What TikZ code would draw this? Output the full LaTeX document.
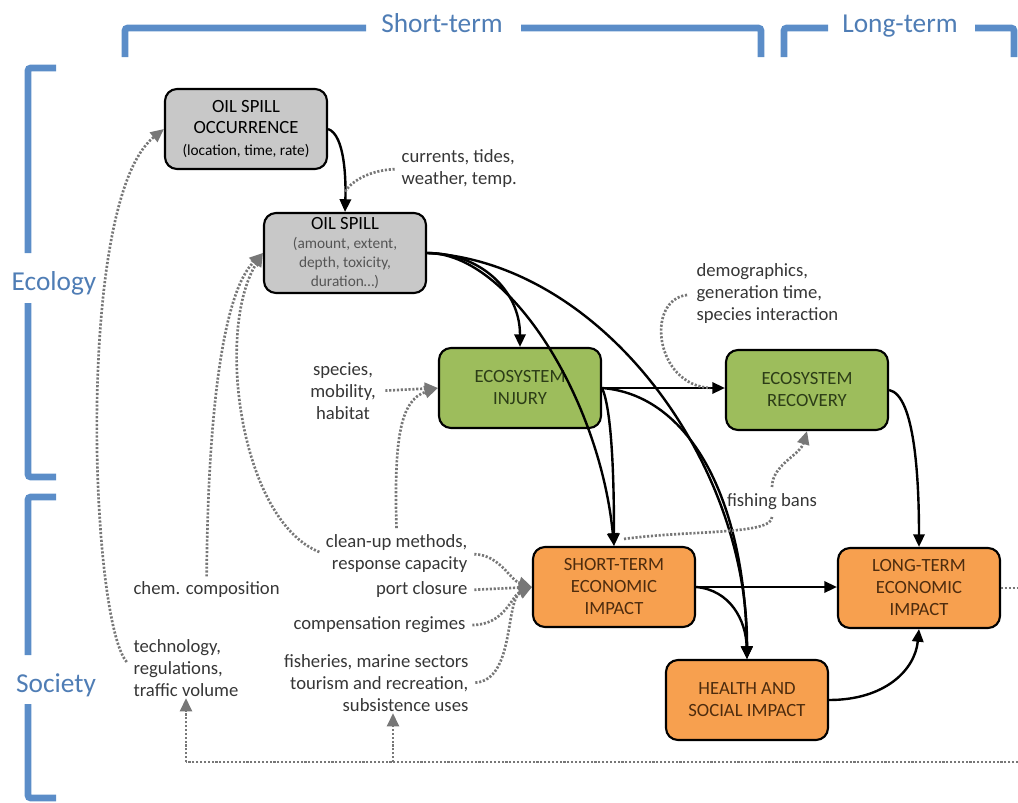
\documentclass[tikz,border=0pt]{standalone}
\usepackage{fontspec}
\setmainfont{Carlito}
\usetikzlibrary{arrows.meta,calc}
\definecolor{boxgrey}{HTML}{C8C8C8}
\definecolor{boxgreen}{HTML}{9DBD5C}
\definecolor{boxorange}{HTML}{F7A04F}
\definecolor{greentext}{HTML}{2C3D17}
\definecolor{orangetext}{HTML}{4E2C0E}
\definecolor{lbltext}{HTML}{363636}
\definecolor{subgrey}{HTML}{555555}
\definecolor{dotgrey}{HTML}{777777}
\definecolor{bracketblue}{HTML}{5B8DC8}
\definecolor{titleblue}{HTML}{4F7DB5}
\newcommand{\subfnt}{\fontsize{11.5}{14.3}\selectfont}
\begin{document}
\begin{tikzpicture}[x=0.75pt,y=-0.75pt,
  box/.style={draw=black, line width=1.6pt, rounded corners=9pt,
    minimum width=121.5pt, minimum height=60pt, align=center, inner sep=0pt,
    font=\fontsize{14}{16.5}\selectfont},
  greybox/.style={box, fill=boxgrey, text=black},
  greenbox/.style={box, fill=boxgreen, text=greentext},
  orangebox/.style={box, fill=boxorange, text=orangetext},
  lbl/.style={text=lbltext, font=\fontsize{14}{16.5}\selectfont, inner sep=1pt},
  title/.style={text=titleblue, font=\fontsize{20.5}{24}\selectfont, anchor=base},
  bracket/.style={draw=bracketblue, line width=5pt, rounded corners=2pt},
  conn/.style={draw=black, line width=1.8pt, -{Triangle[length=9.5pt,width=8.5pt]}},
  dotln/.style={draw=dotgrey, line width=2pt, dash pattern=on 1.6pt off 1.3pt},
  dotarrow/.style={dotln, -{Triangle[length=10pt,width=9pt,fill=dotgrey]}},
]
\useasboundingbox (0,0) rectangle (1018,803);

% ---------- brackets and titles ----------
\draw[bracket] (125,57) -- (125,28) -- (366,28);
\draw[bracket] (521,28) -- (761,28) -- (761,57);
\draw[bracket] (784,57) -- (784,28) -- (828,28);
\draw[bracket] (975,28) -- (1014,28) -- (1014,57);
\draw[bracket] (56,68) -- (28,68) -- (28,253);
\draw[bracket] (28,303) -- (28,477) -- (56,477);
\draw[bracket] (56,497) -- (28,497) -- (28,655);
\draw[bracket] (28,704) -- (28,798) -- (56,798);
\node[title] (tshort) at (442,32) {Short-term};
\node[title] (tlong) at (900,32) {Long-term};
\node[title] (teco) at (54,290) {Ecology};
\node[title] (tsoc) at (56,692) {Society};

% ---------- boxes ----------
\node[greybox, font=\fontsize{14}{15.8}\selectfont] (occ) at (246,129) {OIL SPILL\\OCCURRENCE\\{\subfnt (location, time, rate)}};
\node[greybox, font=\fontsize{14}{14.3}\selectfont] (spill) at (345,253) {OIL SPILL\\{\subfnt\color{subgrey}(amount, extent,}\\{\subfnt\color{subgrey}depth, toxicity,}\\{\subfnt\color{subgrey}duration…)}};
\node[greenbox] (inj) at (520,388) {ECOSYSTEM\\INJURY};
\node[greenbox] (rec) at (807,390) {ECOSYSTEM\\RECOVERY};
\node[orangebox] (ste) at (614,587) {SHORT-TERM\\ECONOMIC\\IMPACT};
\node[orangebox] (lte) at (919,588) {LONG-TERM\\ECONOMIC\\IMPACT};
\node[orangebox] (hsi) at (747,700) {HEALTH AND\\SOCIAL IMPACT};

% ---------- labels ----------
\node[lbl, anchor=west, align=left] (currents) at (400,169) {currents, tides,\\weather, temp.};
\node[lbl, anchor=west, align=left] (demog) at (695,294) {demographics,\\generation time,\\species interaction};
\node[lbl, align=center] (species) at (343,391) {species,\\mobility,\\habitat};
\node[lbl, anchor=east, align=right] (cleanup) at (469,554) {clean-up methods,\\response capacity};
\node[lbl, anchor=east] (port) at (469,590) {port closure};
\node[lbl, anchor=east] (comp) at (467,625) {compensation regimes};
\node[lbl, anchor=east, align=right] (fish) at (470,683) {fisheries, marine sectors\\tourism and recreation,\\subsistence uses};
\node[lbl, anchor=west] (chem) at (132,590) {chem. composition};
\node[lbl, anchor=west, align=left] (tech) at (132,668) {technology,\\regulations,\\traffic volume};
\node[lbl, inner sep=5pt] (bans) at (772,502) {fishing bans};

% ---------- black connectors ----------
\draw[conn] (occ.east) .. controls (345,135) and (346,180) .. coordinate[pos=0.8] (cj) (spill.north);
\draw[conn] (spill.east) .. controls (480,253) and (520,290) .. (inj.north);
\draw[conn] (spill.east) .. controls (510,253) and (600,400) .. (ste.north);
\draw[conn] (spill.east) .. controls (600,262) and (748,460) .. (hsi.north);
\draw[conn] (inj.east) -- coordinate[pos=0.88] (rj) (inj.east -| rec.west);
\draw[conn] (inj.east) .. controls (612,410) and (614,480) .. (ste.north);
\draw[conn] (inj.east) .. controls (690,395) and (745,500) .. (hsi.north);
\draw[conn] (ste.east) -- (ste.east -| lte.west);
\draw[conn] (ste.east) .. controls (730,590) and (746,620) .. (hsi.north);
\draw[conn] (rec.east) .. controls (915,395) and (919,480) .. (lte.north);
\draw[conn] (hsi.east) .. controls (885,700) and (915,670) .. (lte.south);

% ---------- dotted influences ----------
\draw[dotln, shorten <=4pt] (currents.west) .. controls (372,170) and (352,180) .. (cj);
\draw[dotln, shorten <=6pt] (demog.west) .. controls (645,300) and (655,385) .. (rj);
\draw[dotarrow, shorten <=6pt] (tech.west) .. controls (90,620) and (75,200) .. (occ.west);
\draw[dotarrow, shorten <=3pt] (chem.north) .. controls (208,400) and (225,290) .. (spill.west);
\draw[dotarrow, shorten <=4pt] (cleanup.west) .. controls (240,520) and (215,330) .. (spill.west);
\draw[dotarrow, shorten <=4pt] (cleanup.north) .. controls (394,440) and (400,400) .. (inj.west);
\draw[dotarrow, shorten <=6pt] (species.east) -- (inj.west);
\draw[dotarrow, shorten <=4pt] (cleanup.east) .. controls (500,555) and (510,580) .. (ste.west);
\draw[dotarrow, shorten <=4pt] (port.east) -- (ste.west);
\draw[dotarrow, shorten <=4pt] (comp.east) .. controls (505,625) and (512,595) .. (ste.west);
\draw[dotarrow, shorten <=4pt] (fish.east) .. controls (515,680) and (505,600) .. (ste.west);
\draw[dotln] ($(ste.north)+(10,-7)$) .. controls (690,530) and (772,535) .. (bans.south);
\draw[dotarrow] (bans.north) .. controls (772,465) and (800,455) .. (rec.south);

% ---------- feedback loop ----------
\coordinate (fbE) at (1018,588);
\coordinate (fbR) at (1018,762);
\coordinate (fbB) at (393,762);
\draw[dotln] (lte.east) -- (fbE);
\draw[dotln] (fbR) -- (tech.south |- fbR);
\draw[dotarrow] (tech.south |- fbR) -- (tech.south);
\draw[dotarrow] (fbB) -- (fbB |- fish.south);
\end{tikzpicture}
\end{document}
